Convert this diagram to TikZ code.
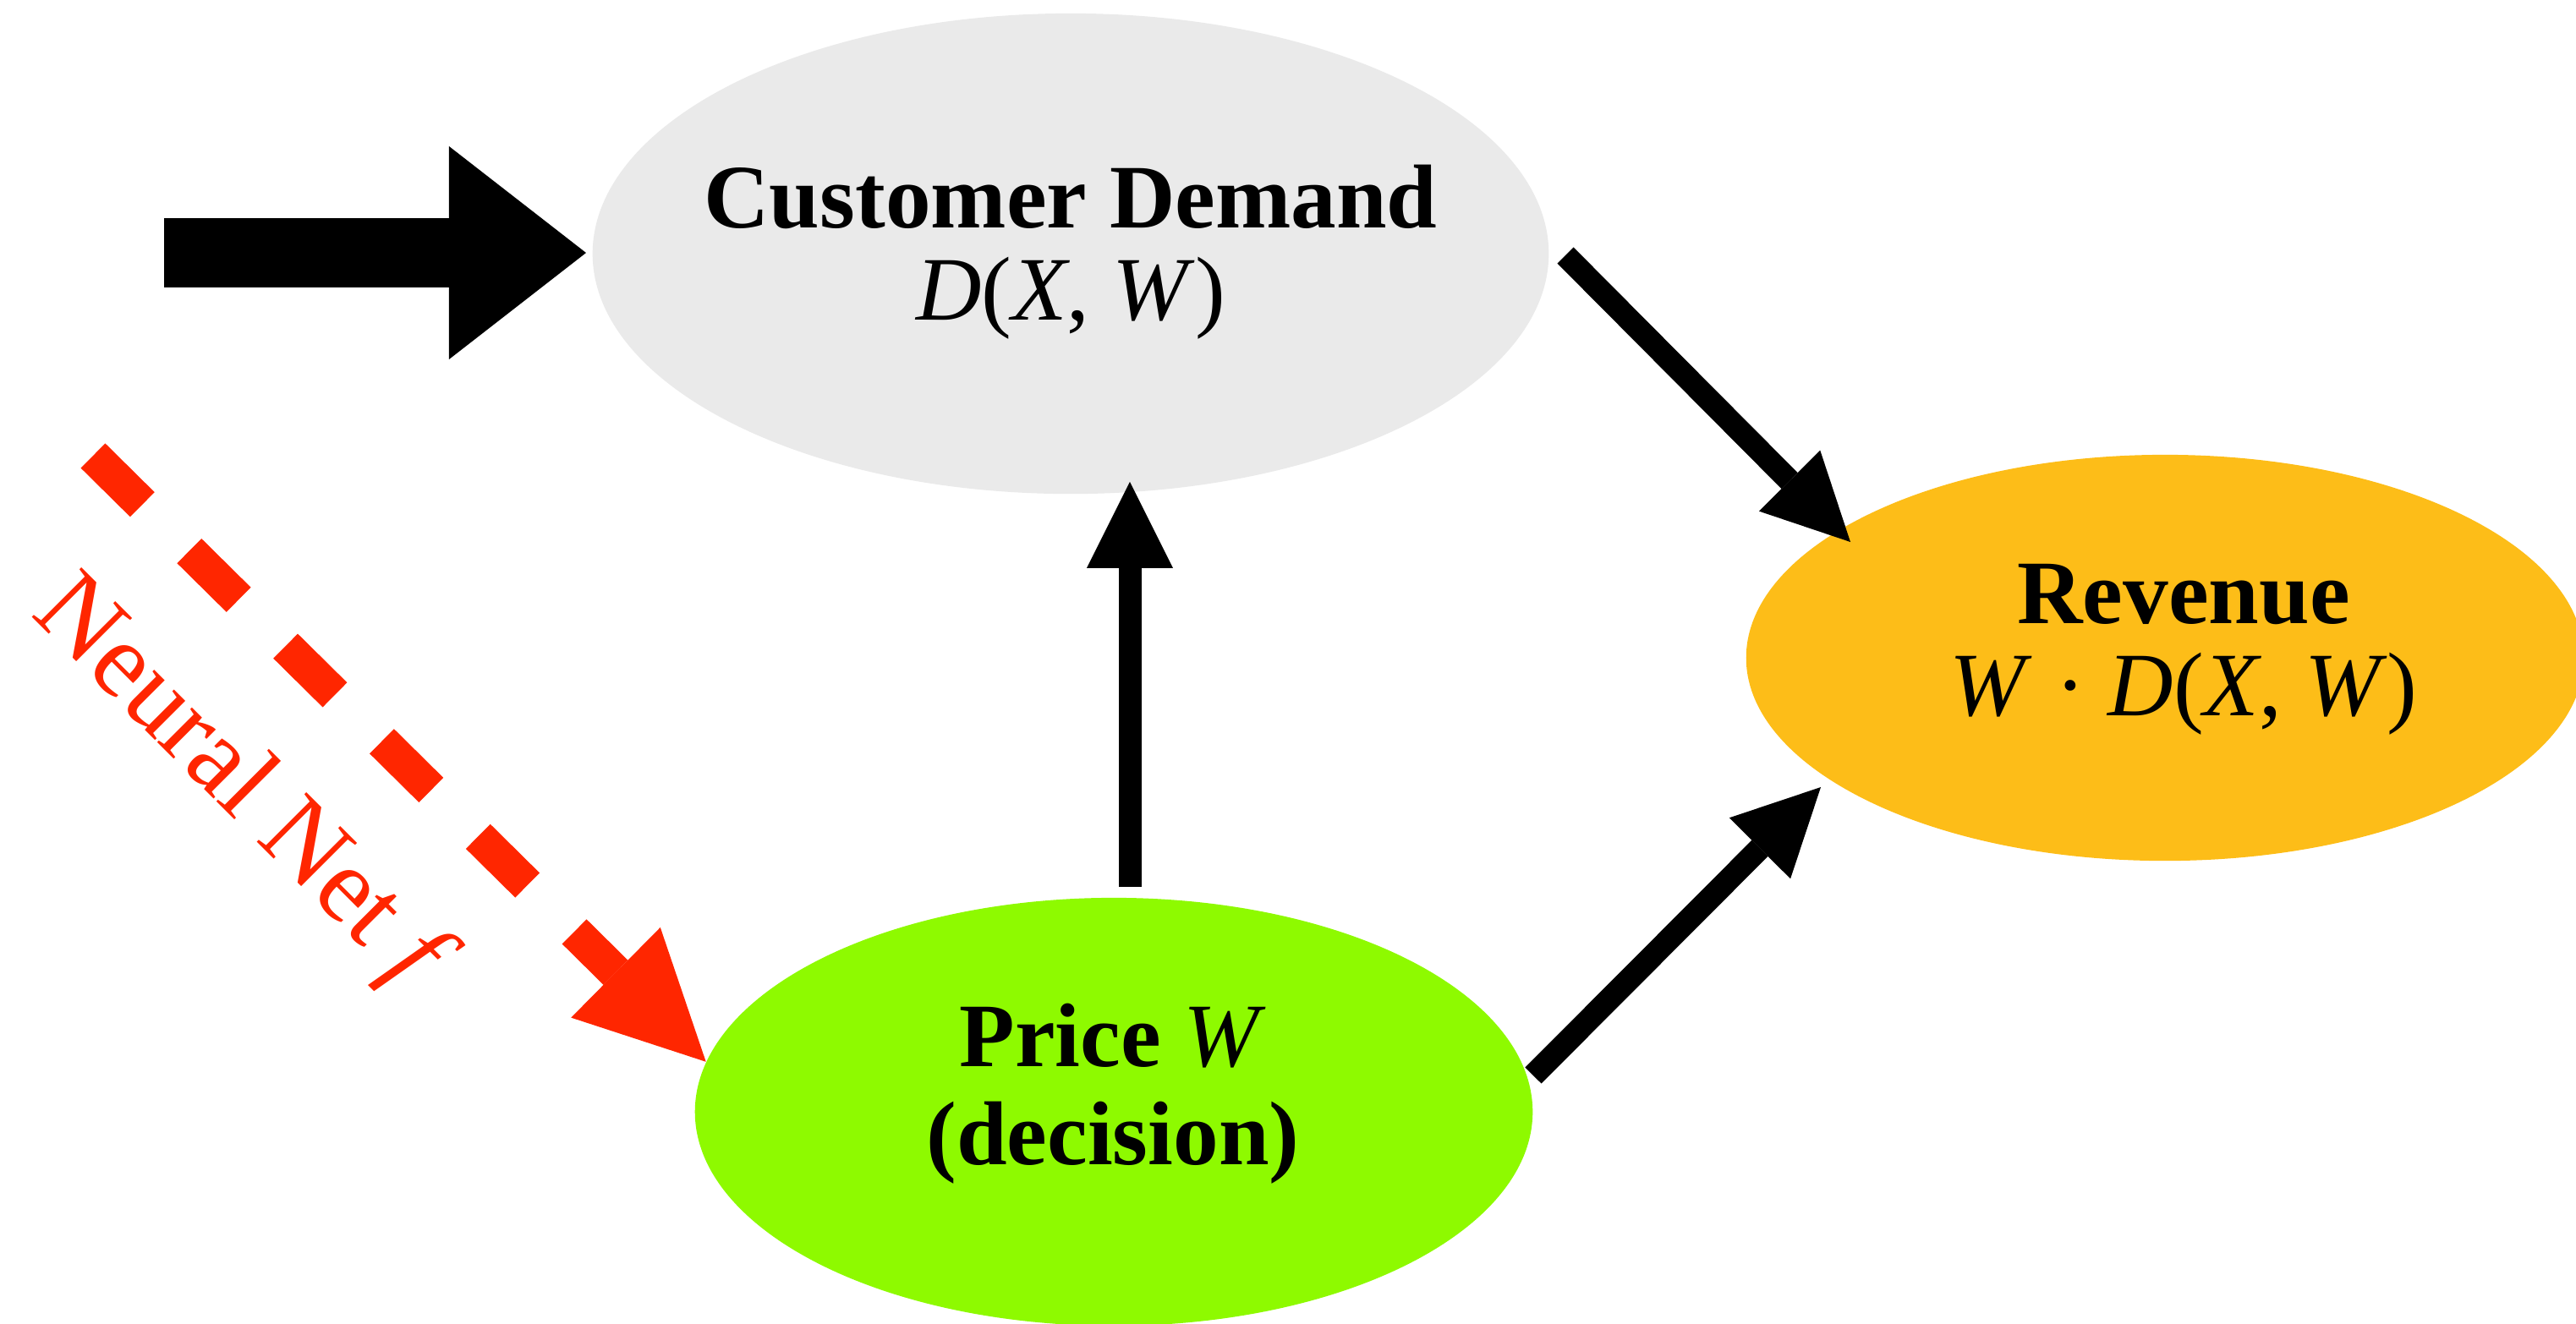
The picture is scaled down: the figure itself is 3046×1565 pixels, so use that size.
\documentclass[tikz,border=0pt]{standalone}
\usepackage{fontspec}
\setmainfont{Liberation Serif}
\usetikzlibrary{arrows.meta,shapes.geometric}
\definecolor{demandgray}{RGB}{234,234,234}
\definecolor{revenuegold}{RGB}{253,189,24}
\definecolor{pricegreen}{RGB}{142,250,0}
\definecolor{nnred}{RGB}{255,38,0}
\begin{document}
\begin{tikzpicture}[x=0.01cm,y=-0.01cm,
  blob/.style={ellipse,draw=none,inner sep=0pt},
  title/.style={align=center,inner sep=0pt,font=\fontsize{30.5}{31}\selectfont},
  flowarrow/.style={draw=black,line width=0.27cm,
    -{Triangle[length=1.02cm,width=1.02cm,line width=0pt]}},
  inputarrow/.style={draw=black,line width=0.82cm,
    -{Triangle[length=1.62cm,width=2.52cm,line width=0pt]}},
  netarrow/.style={draw=nnred,line width=0.41cm,dash pattern=on 0.82cm off 0.78cm,
    -{Triangle[length=1.5cm,width=1.5cm,line width=0pt]}}]
\useasboundingbox (0,0) rectangle (3046,1565);

% the three quantities
\node[blob,fill=demandgray,minimum width=11.30cm,minimum height=5.68cm] (demand) at (1266,300) {};
\node[blob,fill=revenuegold,minimum width=9.90cm,minimum height=4.80cm] (revenue) at (2560,778) {};
\node[blob,fill=pricegreen,minimum width=9.90cm,minimum height=5.06cm] (price) at (1317,1315) {};

\node[title] (demandtext) at (1266,298)
  {\textbf{Customer Demand}\\\textit{D}(\textit{X}, \textit{W})};
\node[title] (revenuetext) at (2582,768)
  {\textbf{Revenue}\\\textit{W} · \textit{D}(\textit{X}, \textit{W})};
\node[title] (pricetext) at (1316,1294)
  {\textbf{Price} \textit{W}\\[2pt]\textbf{(decision)}};

% external input X
\coordinate (inp) at (194,299);
\draw[inputarrow] (inp) -- ([shift={(-7,-1)}]demand.west);

% dependencies
\draw[flowarrow] ([shift={(19,2)}]demand.east) -- ([shift={(-372,-137)}]revenue.center);
\draw[flowarrow] ([shift={(19,-12)}]price.north) -- ([shift={(70,-15)}]demand.south);
\draw[flowarrow] ([shift={(0,-43)}]price.east) -- ([shift={(-407,153)}]revenue.center);

% policy network setting the price
\coordinate (nnstart) at (110,539);
\draw[netarrow] (nnstart) -- (price.173.75);
\node[text=nnred,rotate=-45,anchor=base,inner sep=0pt,font=\fontsize{36}{40}\selectfont]
  (nnlabel) at (262,954) {Neural Net \textit{f}};
\end{tikzpicture}
\end{document}
